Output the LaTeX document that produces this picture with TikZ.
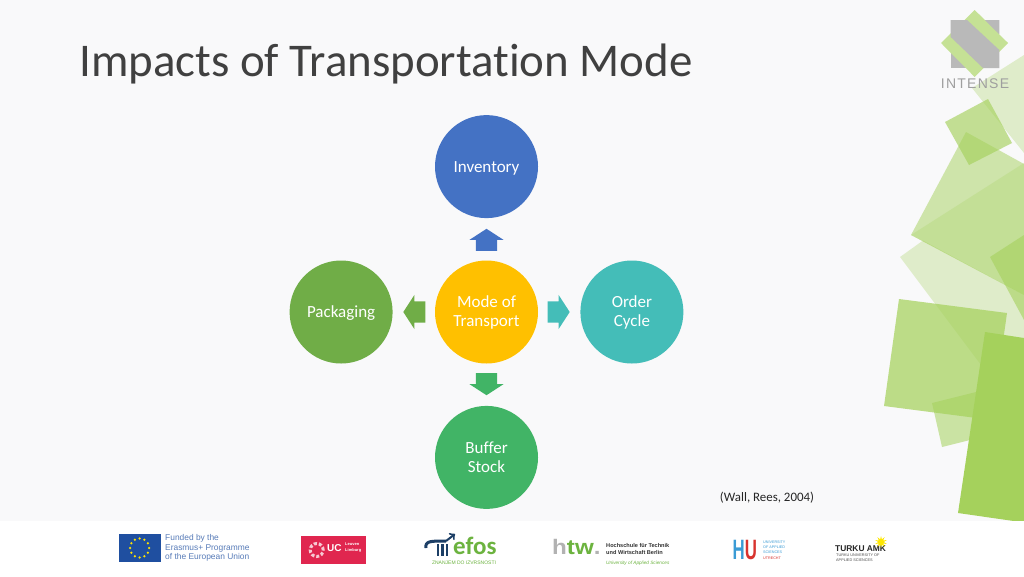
\documentclass[tikz,border=0pt]{standalone}
\usepackage{fontspec}
\setmainfont[Ligatures=CommonOff]{Carlito}
\newfontfamily\logofont{Liberation Sans}
\newfontfamily\intensefont[LetterSpace=9]{Liberation Sans}
\usetikzlibrary{positioning}
\usetikzlibrary{calc}
\usetikzlibrary{shapes.arrows}
\usetikzlibrary{shapes.geometric}

\definecolor{pagebg}{HTML}{F9F9FA}
\definecolor{leaf}{HTML}{A5D15C}
\definecolor{cblue}{HTML}{4472C4}
\definecolor{cgold}{HTML}{FFC000}
\definecolor{cteal}{HTML}{44BDB8}
\definecolor{cgreen}{HTML}{41B466}
\definecolor{colive}{HTML}{70AD47}
\definecolor{efosgreen}{HTML}{6CB33F}
\definecolor{navy}{HTML}{1D3F66}
\definecolor{eublue}{HTML}{1F4FA0}
\definecolor{ucred}{HTML}{E0264F}
\definecolor{hublue}{HTML}{3A9BD5}
\definecolor{hured}{HTML}{D8342F}

\begin{document}
\begin{tikzpicture}[ x = 1pt
                   , y = -1pt
                   , every node/.style = { inner sep = 0pt
                                         , align     = center
                                         }
                   , node distance = 42pt
                   ]

  %%
  %% Node types
  %%
  \tikzset{ topic/.style={ circle
                         , minimum size = 103pt
                         , text         = white
                         , font         = \fontsize{17}{19}\selectfont
                         }
          , blockarrow/.style={ single arrow
                              , anchor                   = tail
                              , text height              = 21pt
                              , text depth               = 0pt
                              , minimum height           = 22pt
                              , single arrow head extend = 6.5pt
                              , single arrow tip angle   = 114
                              }
          , logotext/.style={ anchor = west
                            , align  = left
                            }
          }

  \useasboundingbox (0,0) rectangle (1024,576);
  \fill[pagebg] (0,0) rectangle (1024,576);

  %%
  %% Green background shapes
  %%
  \fill[leaf, fill opacity=.3] (900,257) -- (923,240.5) -- (1024,295) -- (1024,400) -- (990,377) -- cycle;
  \fill[leaf, fill opacity=.3] (972,88) -- (1024,55) -- (1024,153) -- cycle;
  \fill[leaf, fill opacity=.5] (966,132) -- (1024,164) -- (1024,295) -- (911,235) -- cycle;
  \fill[leaf, fill opacity=.25] (911,235) -- (1024,163) -- (1024,295) -- cycle;
  \fill[leaf, fill opacity=.6] (990,257) -- (1024,235) -- (1024,320) -- cycle;
  \fill[leaf, fill opacity=.55] (932,403) -- (1000,386) -- (1010,430) -- (942,447) -- cycle;
  \fill[leaf, fill opacity=.72] (899,299) -- (1007,313) -- (992,420) -- (884,406) -- cycle;
  \fill[leaf] (985,332) -- (1024,338) -- (1024,522.5) -- (958,513) -- cycle;
  \fill[leaf, fill opacity=.65] (988,99) -- (1012,143) -- (969,165) -- (945,122) -- cycle;

  %%
  %% Project logo
  %%
  \fill[gray!55] (950.7,20) rectangle (999.3,68);
  \fill[leaf!65] (974.7,10) -- (1008,43) -- (974.7,77) -- (941,43) -- cycle;
  \fill[gray!55] (950.7,20) -- (967,20) -- (999.3,50) -- (999.3,68) -- (983,68) -- (950.7,37) -- cycle;
  \fill[gray!55] (985,20) -- (999.3,20) -- (999.3,34) -- cycle;
  \node (intense) at (975,83.5) [text=gray!75, font=\fontsize{14}{14}\intensefont] {INTENSE};

  %%
  %% Title and source
  %%
  \node (title) at (79,63.5) [anchor=west, text=black!75, font=\fontsize{46.9}{50}\selectfont] {Impacts of Transportation Mode};
  \node (source) at (767,497.5) [text=black!85, font=\fontsize{12.9}{14}\selectfont] {(Wall, Rees, 2004)};

  %%
  %% Nodes
  %%
  \node (mode) at (486.5,312) [topic, fill=cgold] {Mode of\\Transport};
  \node (inv)  [topic, fill=cblue,  text depth=0pt, above = of mode] {Inventory};
  \node (cyc)  [topic, fill=cteal,  right = of mode] {Order\\Cycle};
  \node (buf)  [topic, fill=cgreen, below = of mode] {Buffer\\Stock};
  \node (pack) [topic, fill=colive, text depth=0pt, left  = of mode] {Packaging};

  %%
  %% Relationships between nodes
  %%
  \node (toinv)  at ($(mode)!61pt!(inv)$)  [blockarrow, fill=cblue,  rotate=90]  {};
  \node (tocyc)  at ($(mode)!61pt!(cyc)$)  [blockarrow, fill=cteal]              {};
  \node (tobuf)  at ($(mode)!61pt!(buf)$)  [blockarrow, fill=cgreen, rotate=270] {};
  \node (topack) at ($(mode)!61pt!(pack)$) [blockarrow, fill=colive, rotate=180] {};

  %%
  %% Footer with partner logos
  %%
  \fill[white] (0,521) rectangle (1024,576);

  %%% Erasmus+
  \node (flag) at (139.6,548) [rectangle, fill=eublue, minimum width=42pt, minimum height=28pt] {};
  \foreach \a in {0,30,...,330} {
    \fill[yellow!85!orange] ($(flag)+(\a:9.5)$) circle (1.3);
  }
  \node (funded) at (165,548) [logotext, text=eublue!75, font=\fontsize{8.4}{9.6}\logofont] {Funded by the\\Erasmus+ Programme\\of the European Union};

  %%% UC Leuven Limburg
  \node (ucbox) at (333.8,550) [rectangle, fill=ucred, minimum width=65pt, minimum height=28pt] {};
  \node (ucring) at (316.7,550) [circle, draw=white!75!ucred, dotted, line width=3pt, minimum size=13pt] {};
  \node (uc) at (327,548) [logotext, text=white, font=\fontsize{10}{10}\logofont\bfseries] {UC};
  \node (ucname) at (345,548) [logotext, text=white, font=\fontsize{4}{6}\logofont\bfseries] {Leuven\\Limburg};

  %%% efos
  \coordinate (efosarc) at (426,548);
  \draw[navy, line width=3pt] (efosarc) .. controls (425,541) and (430,541) .. (446,541);
  \draw[navy, line width=2pt, ->] (446,541) -- (455,534);
  \foreach \x in {438,442.5,447} {
    \fill[navy] (\x-1.4,544) rectangle (\x+1.4,556);
  }
  \node (efos) at (453,546) [logotext, text=efosgreen, font=\fontsize{25}{25}\selectfont\bfseries] {efos};
  \node (efosline) at (464,563) [text=efosgreen, font=\fontsize{5}{5}\logofont] {ZNANJEM DO IZVRSNOSTI};

  %%% HTW Berlin
  \node (htw) at (552,546.5) [logotext, font=\fontsize{21}{21}\logofont\bfseries] {\scalebox{1.15}[1]{\textcolor{gray!60}{h}\textcolor{efosgreen}{tw}\textcolor{gray!60}{.}}};
  \node (htwname) at (606,548.5) [logotext, text=black!80, font=\fontsize{5.6}{7}\logofont\bfseries] {Hochschule für Technik\\und Wirtschaft Berlin};
  \node (htwsub) at (606,563) [logotext, text=efosgreen, font=\fontsize{4.7}{6}\logofont\itshape] {University of Applied Sciences};

  %%% HU Utrecht
  \node (hu) at (732.5,550) [logotext, font=\fontsize{28}{28}\logofont\bfseries] {\scalebox{.6}[1]{\textcolor{hublue}{H}\textcolor{hured}{U}}};
  \node (huname) at (763,550) [logotext, font=\fontsize{3.7}{5.3}\logofont] {\textcolor{hublue}{UNIVERSITY}\\\textcolor{hublue}{OF APPLIED}\\\textcolor{hublue}{SCIENCES}\\\textcolor{hured}{UTRECHT}};

  %%% Turku
  \node (turku) at (835,549) [logotext, text=black!85, font=\fontsize{8.4}{9}\logofont\bfseries] {TURKU AMK};
  \node (turkusub) at (836,557.5) [logotext, text=black!70, font=\fontsize{3.8}{5}\logofont] {TURKU UNIVERSITY OF\\APPLIED SCIENCES};
  \node (sun) at (881,542) [star, star points=10, star point ratio=2.2, fill=yellow!90!orange, minimum size=12pt] {};

\end{tikzpicture}
\end{document}
